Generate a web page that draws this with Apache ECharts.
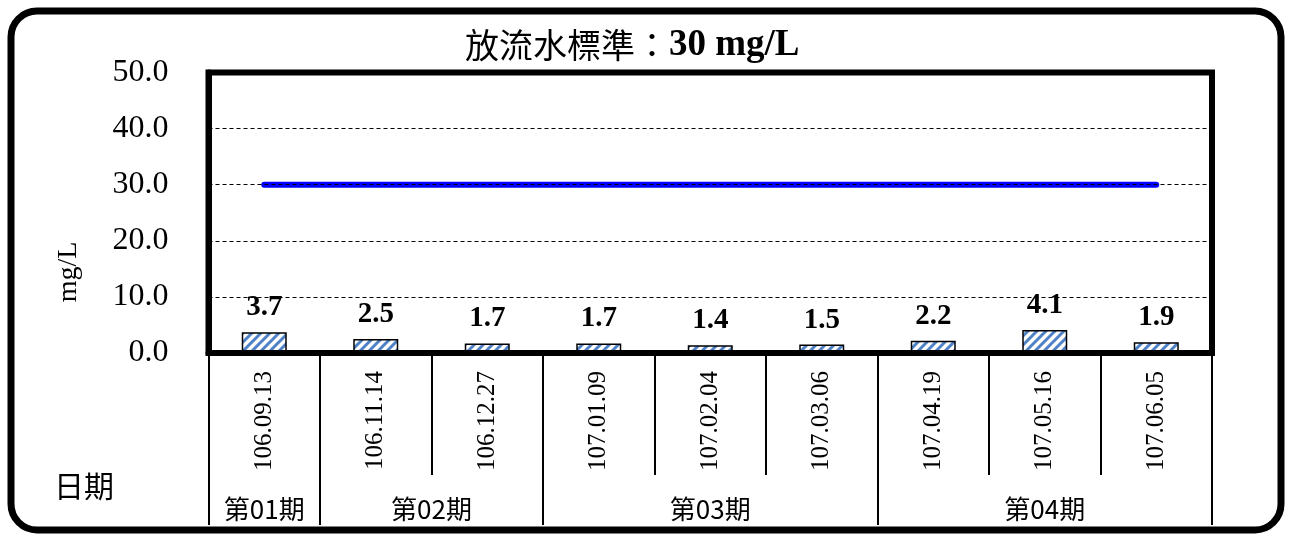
<!DOCTYPE html>
<html>
<head>
<meta charset="utf-8">
<script src="https://cdn.jsdelivr.net/npm/echarts@6/dist/echarts.min.js"></script>
<style>
html,body{margin:0;padding:0;background:#fff;}
#main{width:1289px;height:535px;}
</style>
</head>
<body>
<div id="main"></div>
<script>
// ---- data ----
const dates = ['106.09.13','106.11.14','106.12.27','107.01.09','107.02.04','107.03.06','107.04.19','107.05.16','107.06.05'];
const values = [3.7, 2.5, 1.7, 1.7, 1.4, 1.5, 2.2, 4.1, 1.9];
const standard = [30, 30, 30, 30, 30, 30, 30, 30, 30];
const groupNames = ['第01期','第02期','第03期','第04期'];
const groupBounds = [0, 1, 3, 6, 9];
const yTicks = [0, 10, 20, 30, 40, 50];

const groupMids = groupNames.map((n, i) => (groupBounds[i] + groupBounds[i + 1]) / 2);

// hatch pattern
function makeHatch() {
  const s = 9;
  const c = document.createElement('canvas');
  c.width = s; c.height = s;
  const g = c.getContext('2d');
  g.fillStyle = '#ffffff';
  g.fillRect(0, 0, s, s);
  g.strokeStyle = '#4f81c7';
  g.lineWidth = 3;
  g.beginPath();
  g.moveTo(-1, 1); g.lineTo(1, -1);
  g.moveTo(0, s); g.lineTo(s, 0);
  g.moveTo(s - 1, s + 1); g.lineTo(s + 1, s - 1);
  g.stroke();
  return c;
}

const serif = 'Liberation Serif';
const cjk = 'Noto Sans CJK TC';

const chart = echarts.init(document.getElementById('main'), null, {renderer: 'canvas'});
chart.setOption({
  animation: false,
  backgroundColor: '#fff',
  title: {
    text: '{a|放流水標準：}{b|30 mg/L}',
    left: 460,
    top: 22,
    textStyle: {
      fontWeight: 'normal',
      rich: {
        a: {fontSize: 34, fontFamily: cjk, fontWeight: 'normal', color: '#000'},
        b: {fontSize: 37, fontFamily: serif, fontWeight: 'bold', color: '#000'}
      }
    }
  },
  grid: {
    left: 208.5, right: 77, top: 72.5, bottom: 182,
    show: true, borderColor: '#000', borderWidth: 6, backgroundColor: 'transparent'
  },
  xAxis: [
    {
      type: 'category',
      data: dates,
      position: 'bottom',
      z: 5,
      axisLine: {show: true, lineStyle: {color: '#000', width: 6}},
      axisTick: {show: true, alignWithLabel: false, interval: 0, length: 122, lineStyle: {color: '#000', width: 2}},
      axisLabel: {interval: 0, rotate: 90, margin: 18, fontSize: 25, fontFamily: serif, color: '#000'},
      splitLine: {show: false}
    },
    {
      type: 'value',
      min: 0, max: 9,
      position: 'bottom',
      z: 4,
      axisLine: {show: false},
      splitLine: {show: false},
      axisTick: {show: true, customValues: groupBounds, length: 172, lineStyle: {color: '#000', width: 2}},
      axisLabel: {
        show: true, customValues: groupMids, margin: 143, fontSize: 26, fontFamily: cjk, color: '#000',
        formatter: function (v) {
          const i = groupMids.indexOf(v);
          return i >= 0 ? groupNames[i] : '';
        }
      }
    }
  ],
  yAxis: {
    type: 'value',
    min: yTicks[0], max: yTicks[yTicks.length - 1], interval: 10,
    z: 5,
    axisLine: {show: true, lineStyle: {color: '#000', width: 6}},
    axisTick: {show: false},
    axisLabel: {margin: 40, fontSize: 32, fontFamily: serif, color: '#000', padding: [5, 0, 0, 0], formatter: v => v.toFixed(1)},
    splitLine: {show: true, lineStyle: {color: '#000', width: 1, type: [4, 3]}}
  },
  series: [
    {
      type: 'bar',
      data: values,
      barWidth: 45,
      z: 2,
      itemStyle: {
        color: {image: makeHatch(), repeat: 'repeat'},
        borderColor: '#000',
        borderWidth: 1.5
      },
      label: {
        show: true, position: 'top', distance: 10,
        fontSize: 29, fontWeight: 'bold', fontFamily: serif, color: '#000',
        formatter: p => p.value.toFixed(1)
      }
    },
    {
      type: 'line',
      data: standard,
      symbol: 'none',
      z: 3,
      lineStyle: {color: '#0000ff', width: 6, cap: 'round'}
    }
  ],
  graphic: [
    {
      type: 'rect',
      shape: {x: 11, y: 11, width: 1270, height: 519, r: 26},
      style: {fill: 'none', stroke: '#000', lineWidth: 7},
      z: 100
    },
    {
      type: 'text',
      x: 69, y: 272,
      rotation: Math.PI / 2,
      style: {text: 'mg/L', font: '28px "Liberation Serif"', fill: '#000', align: 'center', verticalAlign: 'middle'}
    },
    {
      type: 'text',
      x: 84, y: 486,
      style: {text: '日期', font: '30px "Noto Sans CJK TC"', fill: '#000', align: 'center', verticalAlign: 'middle'}
    }
  ]
});
</script>
</body>
</html>
